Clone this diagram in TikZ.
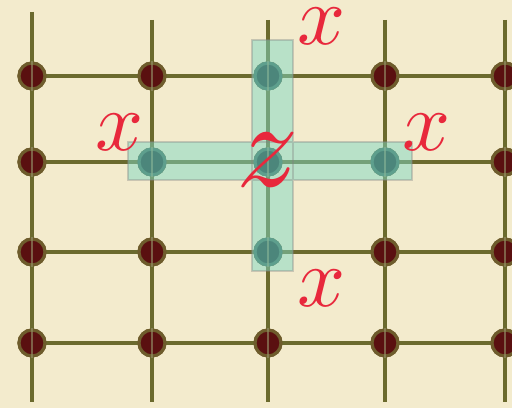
\documentclass[tikz,border=0pt]{standalone}
\usetikzlibrary{positioning}

\definecolor{paper}{HTML}{F3EBCD}
\definecolor{wirecol}{HTML}{6B6A2E}
\definecolor{sitecol}{HTML}{5A1010}
\definecolor{ringcol}{HTML}{6E5C2C}
\definecolor{hicol}{HTML}{1A3533}
\definecolor{hiring}{HTML}{3F6656}
\definecolor{stripcol}{HTML}{7ED8C4}
\definecolor{lblcol}{HTML}{E8283C}

\tikzset{
  wire/.style={draw=wirecol, line width=2.3pt},
  site/.style={circle, fill=sitecol, draw=ringcol, line width=1.8pt,
    minimum size=0.52cm, inner sep=0pt},
  hisite/.style={site, fill=hicol, draw=hiring},
  strip/.style={fill=stripcol, fill opacity=0.5, draw=gray, draw opacity=0.35,
    line width=0.8pt},
  lbl/.style={text=lblcol, inner sep=0pt, scale=4.8},
  biglbl/.style={text=lblcol, inner sep=0pt, scale=7}
}

\begin{document}
\begin{tikzpicture}[x=0.02cm, y=0.02cm]
  \useasboundingbox (0,0) rectangle (512,408);
  \fill[paper] (0,0) rectangle (512,408);

  % ends of the wires
  \foreach \c/\x in {1/32,2/152,3/268,4/385,5/505} {
    \coordinate (top-\c) at (\x,388);
    \coordinate (bot-\c) at (\x,6);
  }
  \coordinate (top-1) at (32,396);
  \foreach \r/\y in {1/332,2/246,3/156,4/65}
    \coordinate (end-\r) at (512,\y);

  % sites
  \foreach \c/\x in {1/32,2/152,3/268,4/385,5/505}
    \foreach \r/\y in {1/332,2/246,3/156,4/65}
      \node[site] (d-\c-\r) at (\x,\y) {};

  % wires
  \foreach \c in {1,...,5}
    \draw[wire] (top-\c) -- (bot-\c);
  \foreach \r in {1,...,4}
    \draw[wire] (d-1-\r.center) -- (end-\r);

  % sites again, over the wires
  \foreach \c in {1,...,5}
    \foreach \r in {1,...,4}
      \node[site] at (d-\c-\r) {};
  \foreach \c/\r in {3/1,2/2,3/2,4/2,3/3}
    \node[hisite] (h-\c-\r) at (d-\c-\r) {};
  \foreach \c in {1,...,5}
    \foreach \r in {1,...,4}
      \draw[wirecol!70!white, line width=1pt, draw opacity=0.6]
        (d-\c-\r.north) -- (d-\c-\r.south);

  % the cross
  \path[strip] (252,137) rectangle (293,368) (128,228) rectangle (412,266);

  % labels
  \node[lbl] (x-top) at (322,382) {$x$};
  \node[lbl] (x-left) at (120,276) {$x$};
  \node[lbl] (x-right) at (427,276) {$x$};
  \node[lbl] (x-bot) at (322,120) {$x$};
  \node[biglbl] (z) at (268,248) {$z$};
\end{tikzpicture}
\end{document}
